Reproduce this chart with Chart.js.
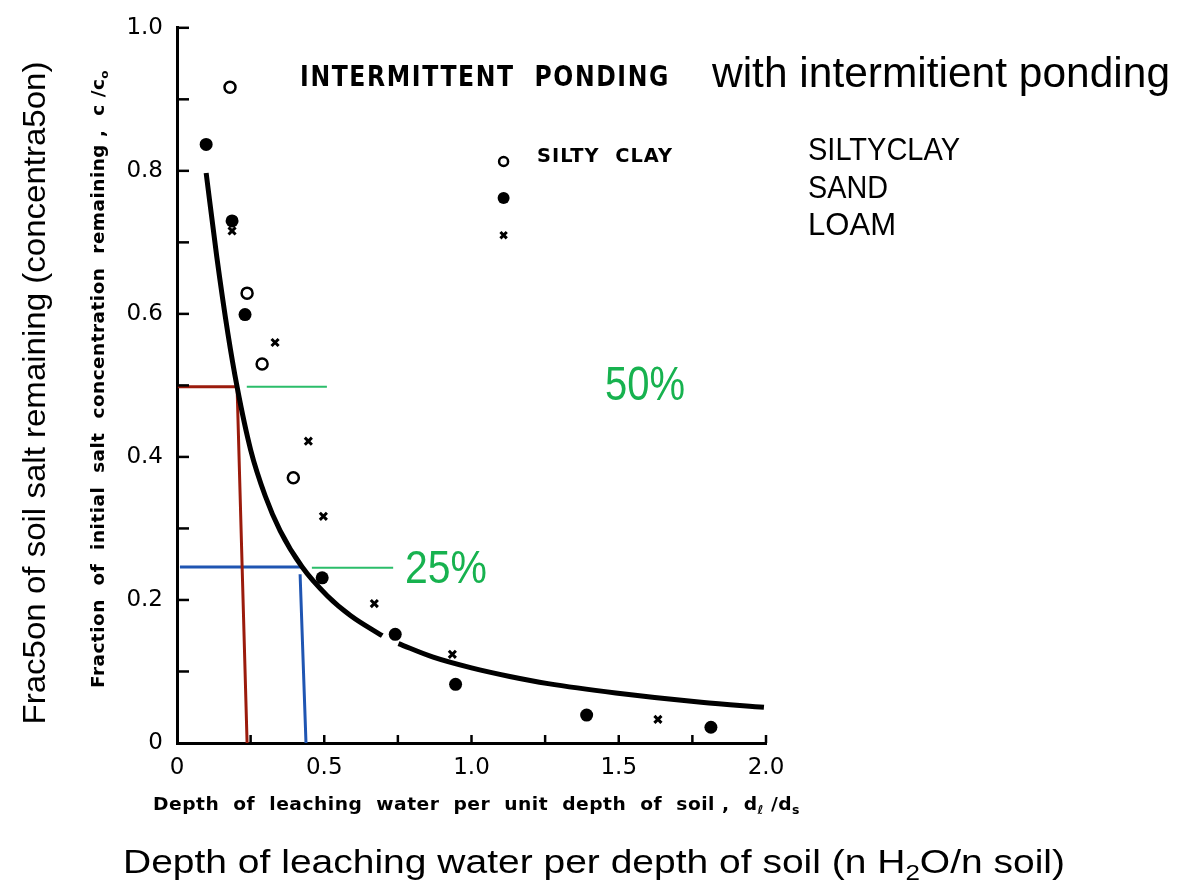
<!DOCTYPE html>
<html>
<head>
<meta charset="utf-8">
<script src="https://cdn.jsdelivr.net/npm/chart.js@4.4.0/dist/chart.umd.min.js"></script>
<style>
  html, body { margin: 0; padding: 0; background: #fff; }
  #wrap { width: 1203px; height: 881px; }
</style>
</head>
<body>
<div id="wrap"><canvas id="chart" width="1203" height="881"></canvas></div>
<script>
// DATA
// fitted curve, null = the small break in the printed line
const curveX = [0.099, 0.135, 0.173, 0.204, 0.250, 0.300, 0.350, 0.425, 0.510, 0.590, 0.697, 0.725, 0.752, 0.870, 1.000, 1.130, 1.260, 1.490, 1.780, 1.993];
const curveY = [0.797, 0.680, 0.572, 0.498, 0.410, 0.345, 0.297, 0.246, 0.206, 0.178, 0.150, null, 0.139, 0.120, 0.105, 0.093, 0.083, 0.070, 0.057, 0.050];

const siltyX = [0.180, 0.238, 0.289, 0.395];
const siltyY = [0.917, 0.629, 0.530, 0.371];

const sandX = [0.099, 0.187, 0.231, 0.493, 0.741, 0.946, 1.391, 1.813];
const sandY = [0.837, 0.730, 0.599, 0.231, 0.152, 0.082, 0.039, 0.022];

const loamX = [0.187, 0.333, 0.446, 0.497, 0.670, 0.935, 1.633];
const loamY = [0.716, 0.560, 0.422, 0.317, 0.195, 0.124, 0.033];

// overlay guide lines (50% and 25% readings)
const redX = [0.003, 0.204, 0.238];
const redY = [0.498, 0.498, 0];
const blueX = [0.010, 0.424, 0.421, 0.418, 0.438];
const blueY = [0.246, 0.246, null, 0.236, 0];
const green50X = [0.237, 0.509];
const green50Y = [0.498, 0.498];
const green25X = [0.458, 0.734];
const green25Y = [0.245, 0.245];

// key symbols in the scanned legend
const keyX = 1.109;
const keyY = [0.813, 0.762, 0.710];

const xTicks = [0, 0.5, 1.0, 1.5, 2.0];
const yTicks = [0, 0.2, 0.4, 0.6, 0.8, 1.0];
const xMinor = [0.25, 0.5, 0.75, 1.0, 1.25, 1.5, 1.75, 2.0];
const yMinor = [0.1, 0.2, 0.3, 0.4, 0.5, 0.6, 0.7, 0.8, 0.9, 1.0];

const scanFont = "DejaVu Sans";
const newFont = "Liberation Sans";
const green = "#17b24f";

function pts(xs, ys) {
  return xs.map((x, i) => ({ x: x, y: ys[i] }));
}

// draw several text runs on one baseline, squeezed/stretched to a width
function drawRuns(ctx, runs, x, y, width, align, spacing) {
  ctx.save();
  ctx.letterSpacing = (spacing || 0) + "px";
  let total = 0;
  runs.forEach(r => { ctx.font = r[1]; total += ctx.measureText(r[0]).width; });
  const sx = width / total;
  ctx.translate(x, y);
  ctx.scale(sx, 1);
  let cx = align === "center" ? -total / 2 : 0;
  ctx.textAlign = "left";
  runs.forEach(r => {
    ctx.font = r[1];
    ctx.fillText(r[0], cx, r[2] || 0);
    cx += ctx.measureText(r[0]).width;
  });
  ctx.restore();
}

const textPlugin = {
  id: "texts",
  afterDraw(chart) {
    const ctx = chart.ctx;
    const xs = chart.scales.x, ys = chart.scales.y;
    const area = chart.chartArea;

    // inward tick marks, like the original axes
    ctx.save();
    ctx.strokeStyle = "#000";
    ctx.lineWidth = 2.5;
    yMinor.forEach(v => {
      const py = ys.getPixelForValue(v);
      ctx.beginPath(); ctx.moveTo(area.left, py); ctx.lineTo(area.left + 12, py); ctx.stroke();
    });
    xMinor.forEach(v => {
      const px = xs.getPixelForValue(v);
      ctx.beginPath(); ctx.moveTo(px, area.bottom); ctx.lineTo(px, area.bottom - 8); ctx.stroke();
    });
    ctx.restore();

    ctx.save();
    ctx.fillStyle = "#000";
    ctx.textBaseline = "alphabetic";

    // scanned texts
    drawRuns(ctx, [["INTERMITTENT  PONDING", "bold 29px " + scanFont]], 300, 86, 370, "left", 2);
    drawRuns(ctx, [["SILTY  CLAY", "bold 19px " + scanFont]], 537, 162, 136, "left", 1);
    drawRuns(ctx, [
      ["Depth  of  leaching  water  per  unit  depth  of  soil ,  d", "bold 18px " + scanFont],
      ["\u2113", "bold 12px " + scanFont, 4],
      [" /d", "bold 18px " + scanFont],
      ["s", "bold 12px " + scanFont, 4]
    ], 153, 810, 647, "left", 0.5);

    ctx.save();
    ctx.translate(104, 379);
    ctx.rotate(-Math.PI / 2);
    drawRuns(ctx, [
      ["Fraction  of  initial  salt  concentration  remaining ,  c /c", "bold 17px " + scanFont],
      ["o", "bold 11px " + scanFont, 4]
    ], 0, 0, 618, "center", 0.5);
    ctx.restore();

    // overlaid annotations
    drawRuns(ctx, [["with intermitient ponding", "43px " + newFont]], 712, 87, 458);
    drawRuns(ctx, [["SILTYCLAY", "32px " + newFont]], 808, 160, 152);
    drawRuns(ctx, [["SAND", "32px " + newFont]], 808, 198, 80);
    drawRuns(ctx, [["LOAM", "32px " + newFont]], 808, 235, 88);

    ctx.fillStyle = green;
    drawRuns(ctx, [["50%", "48px " + newFont]], 605, 400, 80);
    drawRuns(ctx, [["25%", "46px " + newFont]], 405, 583, 82);

    ctx.fillStyle = "#000";
    drawRuns(ctx, [
      ["Depth of leaching water per depth of soil (n H", "33px " + newFont],
      ["2", "22px " + newFont, 7],
      ["O/n soil)", "33px " + newFont]
    ], 123, 873, 942);

    ctx.save();
    ctx.translate(45, 393);
    ctx.rotate(-Math.PI / 2);
    drawRuns(ctx, [["Frac5on of soil salt remaining (concentra5on)", "31px " + newFont]], 0, 0, 663, "center");
    ctx.restore();

    ctx.restore();
  }
};

const lineDs = (label, xs, ys, color, width) => ({
  label: label,
  data: pts(xs, ys),
  showLine: true,
  borderColor: color,
  borderWidth: width,
  pointRadius: 0,
  spanGaps: false,
  order: 5
});

new Chart(document.getElementById("chart"), {
  type: "scatter",
  data: {
    datasets: [
      lineDs("red", redX, redY, "#9b1b0c", 3),
      lineDs("blue", blueX, blueY, "#1f55b2", 3),
      lineDs("green50", green50X, green50Y, "#2bbd6a", 2),
      lineDs("green25", green25X, green25Y, "#2bbd6a", 2),
      {
        label: "curve",
        data: pts(curveX, curveY),
        showLine: true,
        borderColor: "#000",
        borderWidth: 5,
        pointRadius: 0,
        cubicInterpolationMode: "monotone",
        spanGaps: false,
        order: 2
      },
      {
        label: "Silty clay",
        data: pts(siltyX, siltyY),
        pointStyle: "circle",
        pointRadius: 5.5,
        backgroundColor: "#fff",
        borderColor: "#000",
        borderWidth: 2.5,
        order: 1
      },
      {
        label: "Sand",
        data: pts(sandX, sandY),
        pointStyle: "circle",
        pointRadius: 6.5,
        backgroundColor: "#000",
        borderColor: "#000",
        borderWidth: 0,
        order: 1
      },
      {
        label: "Loam",
        data: pts(loamX, loamY),
        pointStyle: "crossRot",
        pointRadius: 5,
        borderColor: "#000",
        borderWidth: 3,
        order: 1
      },
      {
        label: "key",
        data: keyY.map(y => ({ x: keyX, y: y })),
        pointStyle: ["circle", "circle", "crossRot"],
        pointRadius: [4.5, 6, 4.5],
        backgroundColor: ["#fff", "#000", "#000"],
        borderColor: "#000",
        borderWidth: [2.5, 0, 3],
        order: 1
      }
    ]
  },
  options: {
    responsive: false,
    animation: false,
    devicePixelRatio: 1,
    layout: { padding: { left: 0, top: 20, right: 437, bottom: 0 } },
    plugins: { legend: { display: false }, tooltip: { enabled: false } },
    scales: {
      x: {
        type: "linear",
        min: 0,
        max: 2,
        afterFit: s => { s.height = 138; },
        afterBuildTicks: s => { s.ticks = xTicks.map(v => ({ value: v })); },
        grid: { display: false, drawTicks: false },
        border: { display: true, color: "#000", width: 3 },
        ticks: {
          padding: 11,
          color: "#000",
          font: { family: scanFont, size: 23 },
          callback: v => v === 0 ? "0" : v.toFixed(1)
        }
      },
      y: {
        type: "linear",
        min: 0,
        max: 1,
        afterFit: s => { s.width = 177; },
        afterBuildTicks: s => { s.ticks = yTicks.map(v => ({ value: v })); },
        grid: { display: false, drawTicks: false },
        border: { display: true, color: "#000", width: 3 },
        ticks: {
          padding: 14,
          color: "#000",
          font: { family: scanFont, size: 23 },
          callback: v => v === 0 ? "0" : v.toFixed(1)
        }
      }
    }
  },
  plugins: [textPlugin]
});
</script>
</body>
</html>
